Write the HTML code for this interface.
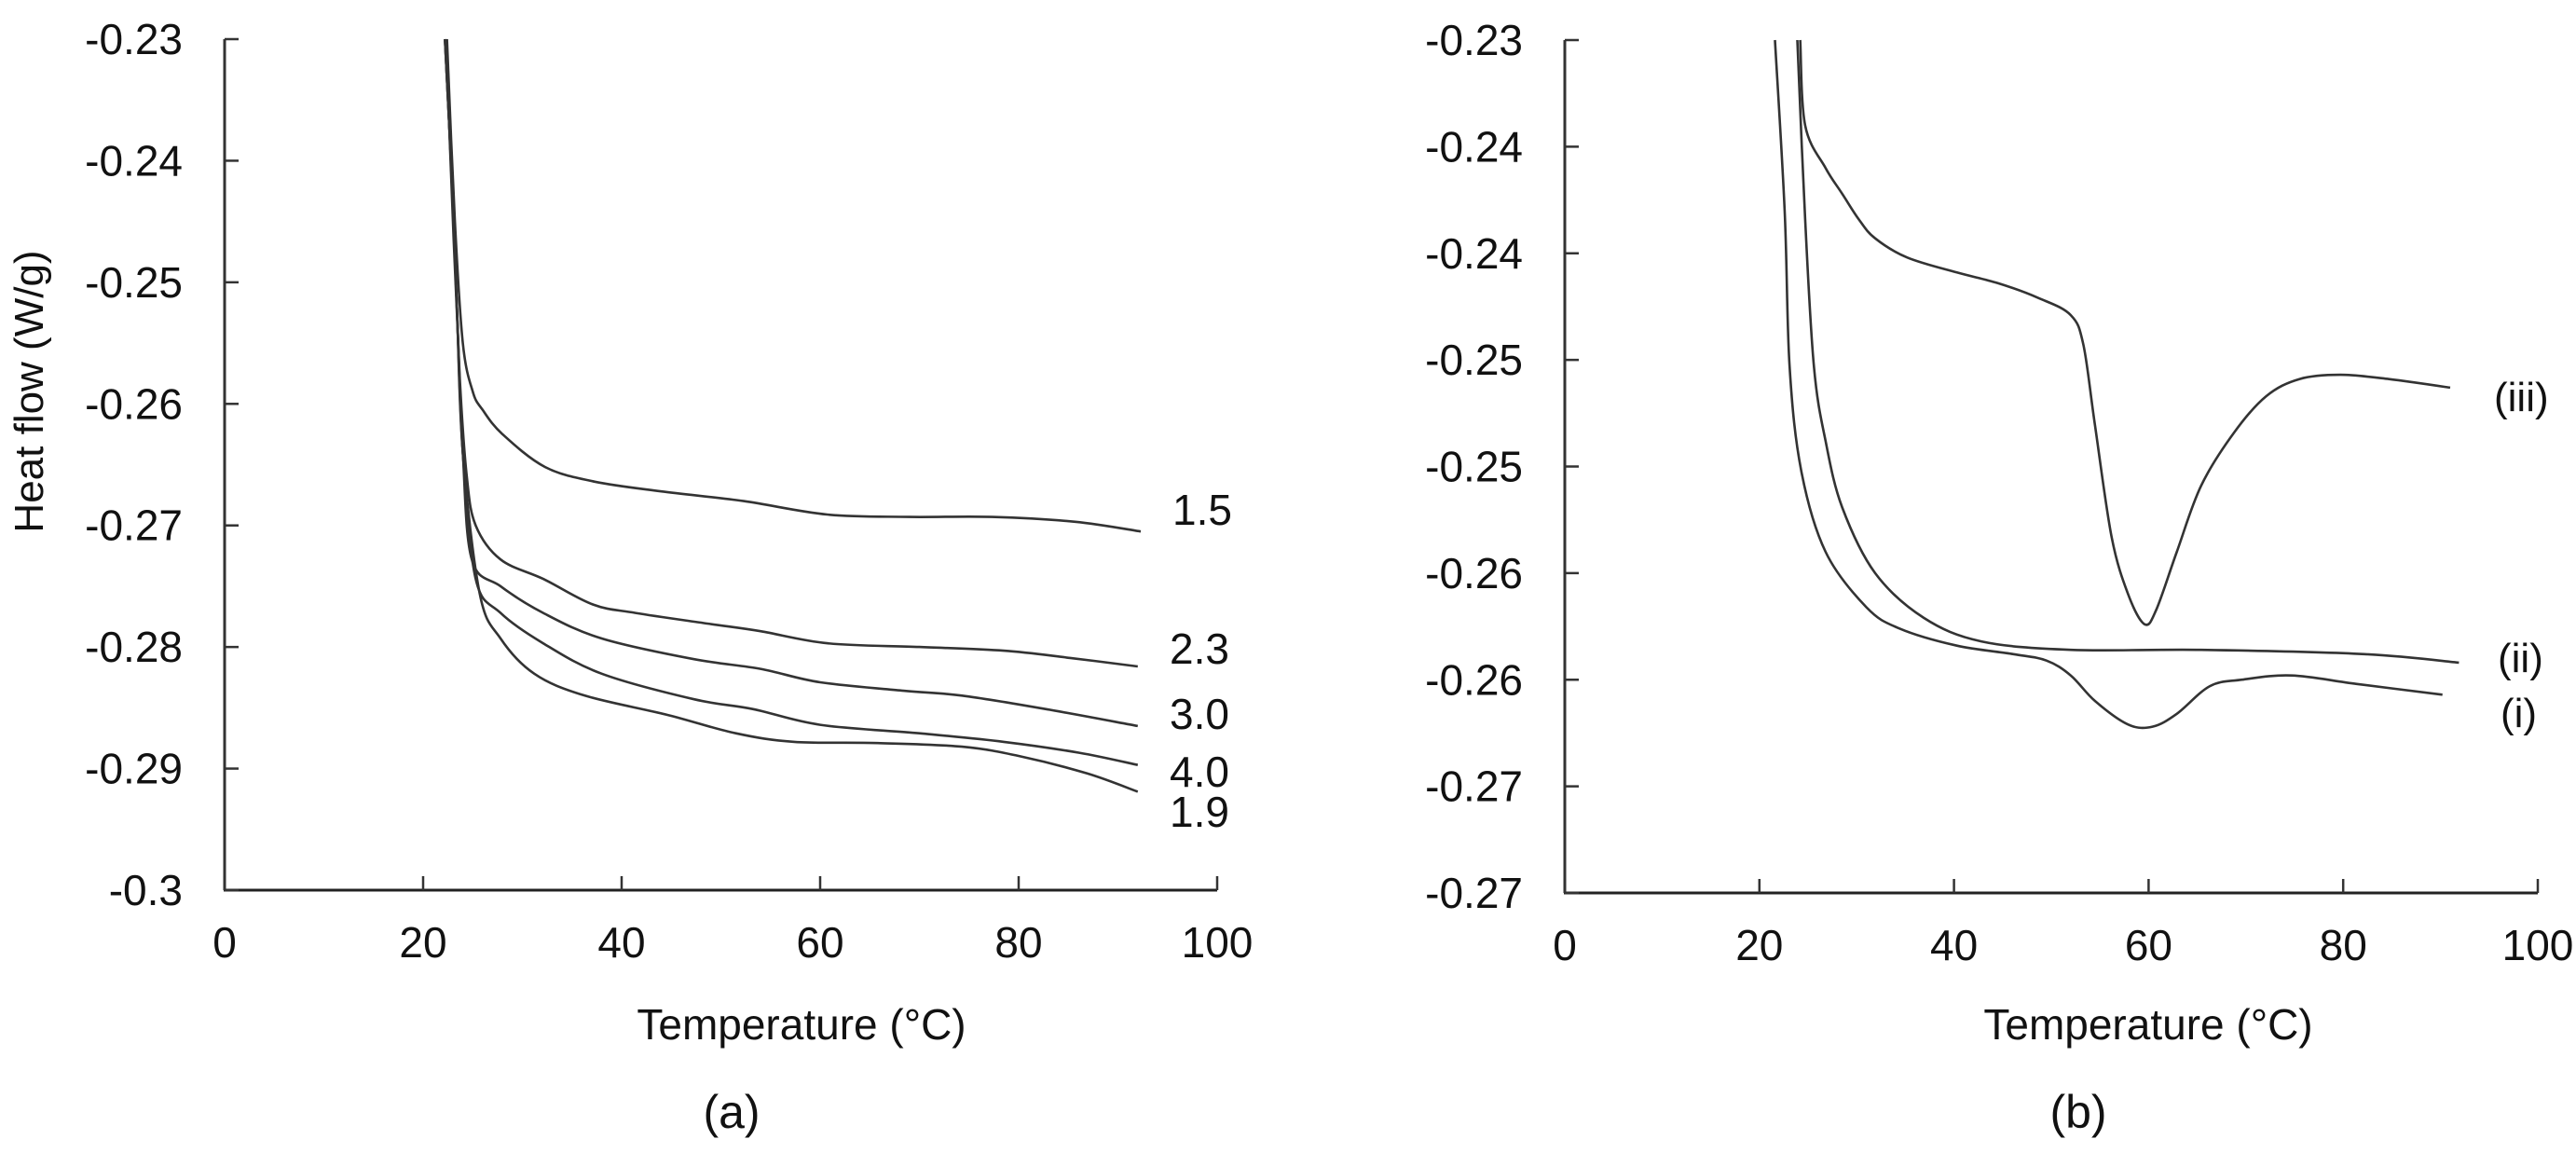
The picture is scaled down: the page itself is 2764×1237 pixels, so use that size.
<!DOCTYPE html>
<html><head><meta charset="utf-8"><style>
html,body{margin:0;padding:0;background:#fff;}
svg{display:block;font-family:"Liberation Sans",Arial,sans-serif;}
</style></head><body>
<svg id="fig" width="2764" height="1237" viewBox="0 0 2764 1237" xmlns="http://www.w3.org/2000/svg"></svg>
<script>
// ---- Data: panel (a) ----
const aXTicks = [0,20,40,60,80,100];
const aYTicks = [-0.23,-0.24,-0.25,-0.26,-0.27,-0.28,-0.29,-0.3];
const aYTickLabels = ["-0.23","-0.24","-0.25","-0.26","-0.27","-0.28","-0.29","-0.3"];
const aSeriesNames = ["1.5","2.3","3.0","4.0","1.9"];
const a15T = [22.4,23.2,24,25,26,28,32.3,37.3,44,52.3,60.7,69,77.3,85.7,92.3];
const a15V = [-0.23,-0.245,-0.255,-0.259,-0.2605,-0.2625,-0.2652,-0.2664,-0.2672,-0.268,-0.2691,-0.2693,-0.2693,-0.2697,-0.2705];
const a23T = [22.3,23,23.7,24.4,25.3,27.8,32.1,37.1,41.4,48.9,54,60.8,70,78.5,85.2,92];
const a23V = [-0.23,-0.245,-0.258,-0.266,-0.27,-0.2728,-0.2744,-0.2765,-0.2772,-0.2781,-0.2787,-0.2797,-0.28,-0.2803,-0.2809,-0.2816];
const a30T = [22.2,22.8,23.4,24,24.9,27.8,32.1,38,47.3,54,60,68.4,74.3,82.7,92];
const a30V = [-0.23,-0.24,-0.252,-0.264,-0.2728,-0.275,-0.2772,-0.2793,-0.281,-0.2818,-0.2829,-0.2836,-0.284,-0.2851,-0.2865];
const a40T = [22.2,22.8,23.4,24,25.3,27.8,32.1,38,47.3,53.2,60,70,78.5,86.1,92];
const a40V = [-0.23,-0.24,-0.252,-0.264,-0.2744,-0.2772,-0.2797,-0.2822,-0.2843,-0.2851,-0.2864,-0.2871,-0.2878,-0.2887,-0.2897];
const a19T = [22.2,22.8,23.4,24,25.7,27.8,31.2,36.3,44.7,51.5,57.4,65.8,74.3,80.2,86.9,92];
const a19V = [-0.23,-0.24,-0.252,-0.264,-0.2756,-0.2793,-0.2822,-0.284,-0.2856,-0.2871,-0.2878,-0.2879,-0.2882,-0.289,-0.2904,-0.2919];
// ---- Data: panel (b) ----
const bXTicks = [0,20,40,60,80,100];
const bYTicks = [-0.23,-0.235,-0.24,-0.245,-0.25,-0.255,-0.26,-0.265,-0.27];
const bYTickLabels = ["-0.23","-0.24","-0.24","-0.25","-0.25","-0.26","-0.26","-0.27","-0.27"];
const bSeriesNames = ["(iii)","(ii)","(i)"];
const b3T = [24.2,24.7,26.8,28.5,30.2,31.9,35.2,40.3,44.5,48.7,52,53.3,54.5,56.2,57.9,59.6,60.8,62.9,65.4,68.8,72.1,75.5,79.7,84.7,91];
const b3V = [-0.23,-0.234,-0.236,-0.2372,-0.2384,-0.2393,-0.2402,-0.2409,-0.2414,-0.2421,-0.2429,-0.2443,-0.2481,-0.2533,-0.256,-0.2574,-0.2567,-0.254,-0.2509,-0.2484,-0.2467,-0.2459,-0.2457,-0.2459,-0.2463];
const b2T = [23.9,24.7,25.6,26.8,28.5,31.9,36.9,42.8,52,65.4,82.2,91.9];
const b2V = [-0.23,-0.2384,-0.2453,-0.2488,-0.2519,-0.255,-0.2571,-0.2582,-0.2586,-0.2586,-0.2588,-0.2592];
const b1T = [21.6,22.6,23.1,24.3,26.8,31,34.4,40.3,46.1,49.5,52,54.5,57.9,60.4,62.9,66.3,69.6,74.7,81.4,90.2];
const b1V = [-0.23,-0.238,-0.2453,-0.2502,-0.254,-0.2566,-0.2576,-0.2584,-0.2588,-0.2591,-0.2598,-0.261,-0.2621,-0.2622,-0.2616,-0.2603,-0.26,-0.2598,-0.2602,-0.2607];

const NS="http://www.w3.org/2000/svg";
const svg=document.getElementById('fig');
function mk(tag,attrs,parent){const e=document.createElementNS(NS,tag);for(const k in attrs)e.setAttribute(k,attrs[k]);(parent||svg).appendChild(e);return e;}
function txt(s,attrs,parent){const e=mk('text',attrs,parent);e.textContent=s;return e;}

function smoothPath(pts){
  let d="M"+pts[0][0].toFixed(1)+","+pts[0][1].toFixed(1);
  for(let i=0;i<pts.length-1;i++){
    const p0=pts[Math.max(0,i-1)],p1=pts[i],p2=pts[i+1],p3=pts[Math.min(pts.length-1,i+2)];
    const c1x=p1[0]+(p2[0]-p0[0])/6,c1y=p1[1]+(p2[1]-p0[1])/6;
    const c2x=p2[0]-(p3[0]-p1[0])/6,c2y=p2[1]-(p3[1]-p1[1])/6;
    d+=" C"+c1x.toFixed(1)+","+c1y.toFixed(1)+" "+c2x.toFixed(1)+","+c2y.toFixed(1)+" "+p2[0].toFixed(1)+","+p2[1].toFixed(1);
  }
  return d;
}

function panel(cfg){
  const g=mk('g',{});
  
  
  const X=t=>cfg.x0+(t-cfg.xmin)/(cfg.xmax-cfg.xmin)*(cfg.x1-cfg.x0);
  const Y=v=>cfg.y0+(cfg.ymax-v)/(cfg.ymax-cfg.ymin)*(cfg.y1-cfg.y0);
  const ya=mk('line',{x1:cfg.x0,y1:cfg.y0,x2:cfg.x0,y2:cfg.y1,stroke:'#333','stroke-width':3},g);
  
  
  const xa=mk('line',{x1:cfg.x0-1,y1:cfg.y1,x2:cfg.x1,y2:cfg.y1,stroke:'#222','stroke-width':3},g);
  
  
  cfg.yTicks.forEach((v,i)=>{
    const y=Y(v);
    const t=mk('line',{x1:cfg.x0,y1:y,x2:cfg.x0+15,y2:y,stroke:'#333','stroke-width':2.5},g);
    
    
    const l=txt(cfg.yLabels[i],{x:cfg.x0-45,y:y+16,'font-size':46,'text-anchor':'end',fill:'#111'},g);
    
    
  });
  cfg.xTicks.forEach(t=>{
    const x=X(t);
    const tk=mk('line',{x1:x,y1:cfg.y1,x2:x,y2:cfg.y1-15,stroke:'#333','stroke-width':2.5},g);
    
    
    const l=txt(String(t),{x:x,y:cfg.y1+72,'font-size':46,'text-anchor':'middle',fill:'#111'},g);
    
    
  });
  cfg.series.forEach((s,i)=>{
    const pts=s.t.map((t,j)=>[X(t),Y(s.v[j])]);
    const p=mk('path',{d:smoothPath(pts),fill:'none',stroke:'#333','stroke-width':2.6,'stroke-linejoin':'round'},g);
    
    
    const l=txt(cfg.names[i],{x:s.lx,y:s.ly,'font-size':cfg.labelSize,fill:'#111'},g);
    
    
  });
  const xt=txt('Temperature (°C)',{x:cfg.titleX,y:1115,'font-size':46,'text-anchor':'middle',fill:'#111'},g);
  
  
  const pl=txt(cfg.panelLabel,{x:cfg.titleX-75,y:1210,'font-size':50,'text-anchor':'middle',fill:'#111'},g);
  
  
}

panel({name:'panel-a',x0:241,x1:1306,xmin:0,xmax:100,y0:42,y1:955,ymin:-0.3,ymax:-0.23,
  xTicks:aXTicks,yTicks:aYTicks,yLabels:aYTickLabels,names:aSeriesNames,labelSize:46,
  titleX:860,panelLabel:'(a)',
  series:[{t:a15T,v:a15V,lx:1258,ly:563},{t:a23T,v:a23V,lx:1255,ly:712},{t:a30T,v:a30V,lx:1255,ly:782},
          {t:a40T,v:a40V,lx:1255,ly:844},{t:a19T,v:a19V,lx:1255,ly:887}]});
panel({name:'panel-b',x0:1679,x1:2723,xmin:0,xmax:100,y0:43,y1:958,ymin:-0.27,ymax:-0.23,
  xTicks:bXTicks,yTicks:bYTicks,yLabels:bYTickLabels,names:bSeriesNames,labelSize:44,
  titleX:2305,panelLabel:'(b)',
  series:[{t:b3T,v:b3V,lx:2676,ly:441},{t:b2T,v:b2V,lx:2680,ly:721},{t:b1T,v:b1V,lx:2683,ly:780}]});

const yt=txt('Heat flow (W/g)',{x:0,y:0,'font-size':44,'text-anchor':'middle',fill:'#111',transform:'translate(46,420) rotate(-90)'});


</script>
</body></html>
